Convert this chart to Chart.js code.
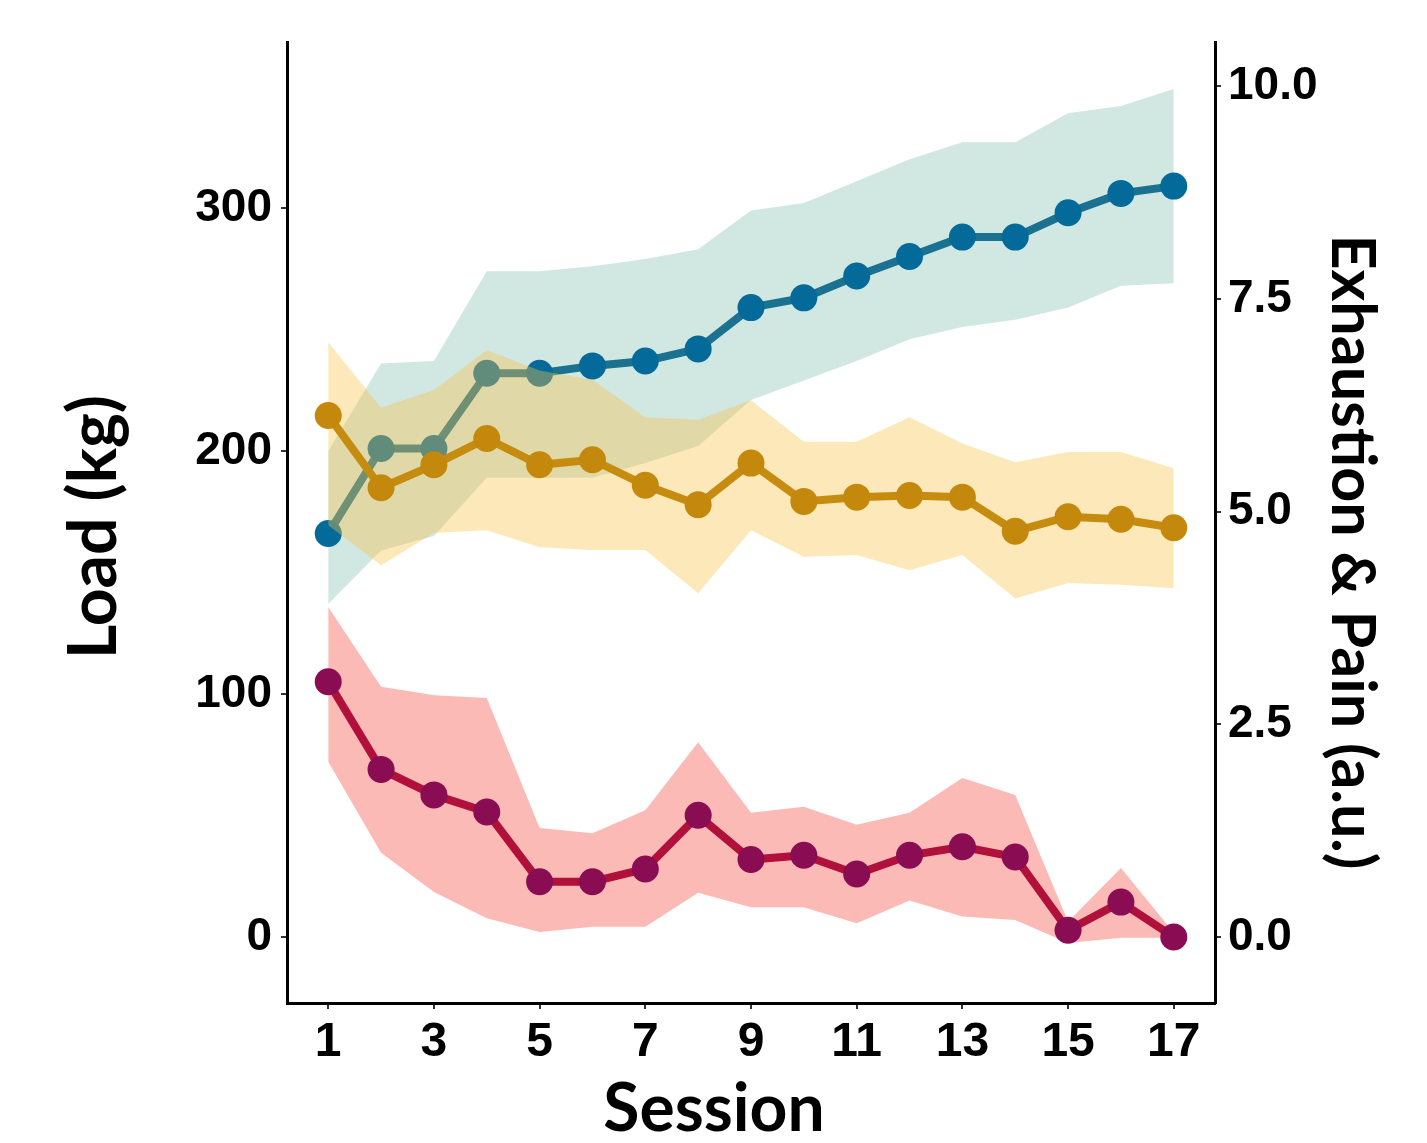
<!DOCTYPE html>
<html>
<head>
<meta charset="utf-8">
<title>Load, exhaustion and pain per session</title>
<script src="https://cdn.jsdelivr.net/npm/chart.js@4.4.1/dist/chart.umd.min.js"></script>
<style>
  html, body { margin: 0; padding: 0; background: #fff; }
  #wrap { width: 1427px; height: 1143px; }
</style>
</head>
<body>
<div id="wrap"><canvas id="chart" width="1427" height="1143"></canvas></div>
<script>
// values
const sessions = [1, 2, 3, 4, 5, 6, 7, 8, 9, 10, 11, 12, 13, 14, 15, 16, 17];
const sessionTicks = [1, 3, 5, 7, 9, 11, 13, 15, 17];
const loadTicks = [0, 100, 200, 300];
const ratingTicks = [0, 2.5, 5, 7.5, 10];

const loadMean  = [166, 201, 201, 232, 232, 235, 237, 242, 259, 263, 272, 280, 288, 288, 298, 306, 309];
const loadUpper = [200, 236, 237, 274, 274, 276, 279, 283, 299, 302, 311, 320, 327, 327, 339, 342, 349];
const loadLower = [137, 159, 165, 189, 189, 189, 195, 202, 221, 229, 237, 246, 251, 254, 259, 268, 269];

const exhaustionMean  = [6.13, 5.28, 5.55, 5.86, 5.55, 5.61, 5.31, 5.08, 5.57, 5.12, 5.17, 5.19, 5.17, 4.77, 4.94, 4.91, 4.81];
const exhaustionUpper = [6.99, 6.22, 6.43, 6.90, 6.66, 6.55, 6.11, 6.08, 6.31, 5.82, 5.82, 6.11, 5.80, 5.58, 5.70, 5.70, 5.51];
const exhaustionLower = [4.84, 4.37, 4.75, 4.78, 4.58, 4.55, 4.55, 4.04, 4.78, 4.47, 4.49, 4.31, 4.49, 3.98, 4.16, 4.14, 4.10];

const painMean  = [3.00, 1.97, 1.67, 1.47, 0.65, 0.65, 0.80, 1.43, 0.91, 0.96, 0.74, 0.96, 1.06, 0.94, 0.08, 0.41, 0.00];
const painUpper = [3.88, 2.94, 2.84, 2.81, 1.28, 1.22, 1.49, 2.29, 1.46, 1.53, 1.32, 1.46, 1.87, 1.67, 0.18, 0.81, 0.05];
const painLower = [2.06, 0.99, 0.53, 0.22, 0.06, 0.12, 0.12, 0.52, 0.35, 0.35, 0.16, 0.43, 0.24, 0.20, -0.07, -0.01, -0.01];

const TICK_FONT = { family: '"Liberation Sans", Arial, sans-serif', size: 46, weight: 'bold' };
const TITLE_FONT = 'Lato, "Open Sans", sans-serif';

const toPoints = (values) => values.map((v, i) => ({ x: sessions[i], y: v }));

function meanLine(values, axis, lineColor, pointColor, order) {
  return {
    data: toPoints(values),
    yAxisID: axis,
    order,
    borderColor: lineColor,
    borderWidth: 8,
    pointRadius: 13.5,
    pointHoverRadius: 13.5,
    pointBorderWidth: 0,
    pointBackgroundColor: pointColor,
    fill: false,
    tension: 0,
  };
}

function bandEdge(values, axis, order, fillColor) {
  return {
    data: toPoints(values),
    yAxisID: axis,
    order,
    borderWidth: 0,
    pointRadius: 0,
    pointHoverRadius: 0,
    backgroundColor: fillColor || 'transparent',
    fill: fillColor ? '+1' : false,
    tension: 0,
  };
}

const axisTitlesPlugin = {
  id: 'axisTitles',
  afterDraw(chart) {
    const { ctx } = chart;
    ctx.save();
    ctx.fillStyle = '#000';
    ctx.textAlign = 'center';
    ctx.textBaseline = 'middle';
    ctx.font = `bold 66px ${TITLE_FONT}`;
    ctx.fillText('Session', 714, 1110);

    ctx.save();
    ctx.translate(95, 527);
    ctx.rotate(-Math.PI / 2);
    ctx.fillText('Load (kg)', 0, 0);
    ctx.restore();

    ctx.save();
    ctx.font = `bold 61px ${TITLE_FONT}`;
    ctx.translate(1352, 552);
    ctx.rotate(Math.PI / 2);
    ctx.fillText('Exhaustion & Pain (a.u.)', 0, 0);
    ctx.restore();
    ctx.restore();
  },
};

const tickGrid = { drawOnChartArea: false, drawTicks: true, tickLength: 6, tickColor: '#333', lineWidth: 2 };
const axisBorder = { display: true, color: '#000', width: 3 };

new Chart(document.getElementById('chart'), {
  type: 'line',
  data: {
    datasets: [
      meanLine(painMean, 'y2', '#b0103a', '#8a0c52', 0),
      bandEdge(painUpper, 'y2', 1, 'rgba(248, 118, 109, 0.5)'),
      bandEdge(painLower, 'y2', 2),
      meanLine(exhaustionMean, 'y2', '#c58c10', '#c4890c', 3),
      bandEdge(exhaustionUpper, 'y2', 4, 'rgba(250, 195, 70, 0.38)'),
      bandEdge(exhaustionLower, 'y2', 5),
      meanLine(loadMean, 'y', '#1b7190', '#046a99', 6),
      bandEdge(loadUpper, 'y', 7, 'rgba(69, 160, 140, 0.25)'),
      bandEdge(loadLower, 'y', 8),
    ],
  },
  options: {
    responsive: false,
    animation: false,
    events: [],
    layout: { padding: { top: 42, left: 0, right: 0, bottom: 0 } },
    plugins: {
      legend: { display: false },
      tooltip: { enabled: false },
      filler: { drawTime: 'beforeDatasetDraw' },
    },
    scales: {
      x: {
        type: 'linear',
        min: 0.22,
        max: 17.78,
        afterFit(scale) { scale.height = 140; },
        afterBuildTicks(scale) { scale.ticks = sessionTicks.map((v) => ({ value: v })); },
        grid: tickGrid,
        border: axisBorder,
        ticks: { color: '#000', font: { ...TICK_FONT, size: 48 }, padding: 5, maxRotation: 0, autoSkip: false },
      },
      y: {
        type: 'linear',
        position: 'left',
        min: -27.2,
        max: 368.3,
        afterFit(scale) { scale.width = 287; },
        afterBuildTicks(scale) { scale.ticks = loadTicks.map((v) => ({ value: v })); },
        grid: tickGrid,
        border: axisBorder,
        ticks: { color: '#000', font: TICK_FONT, padding: 9 },
      },
      y2: {
        type: 'linear',
        position: 'right',
        min: -0.776,
        max: 10.52,
        afterFit(scale) { scale.width = 212; },
        afterBuildTicks(scale) { scale.ticks = ratingTicks.map((v) => ({ value: v })); },
        grid: tickGrid,
        border: axisBorder,
        ticks: { color: '#000', font: TICK_FONT, padding: 7, callback: (v) => Number(v).toFixed(1) },
      },
    },
  },
  plugins: [axisTitlesPlugin],
});
</script>
</body>
</html>
